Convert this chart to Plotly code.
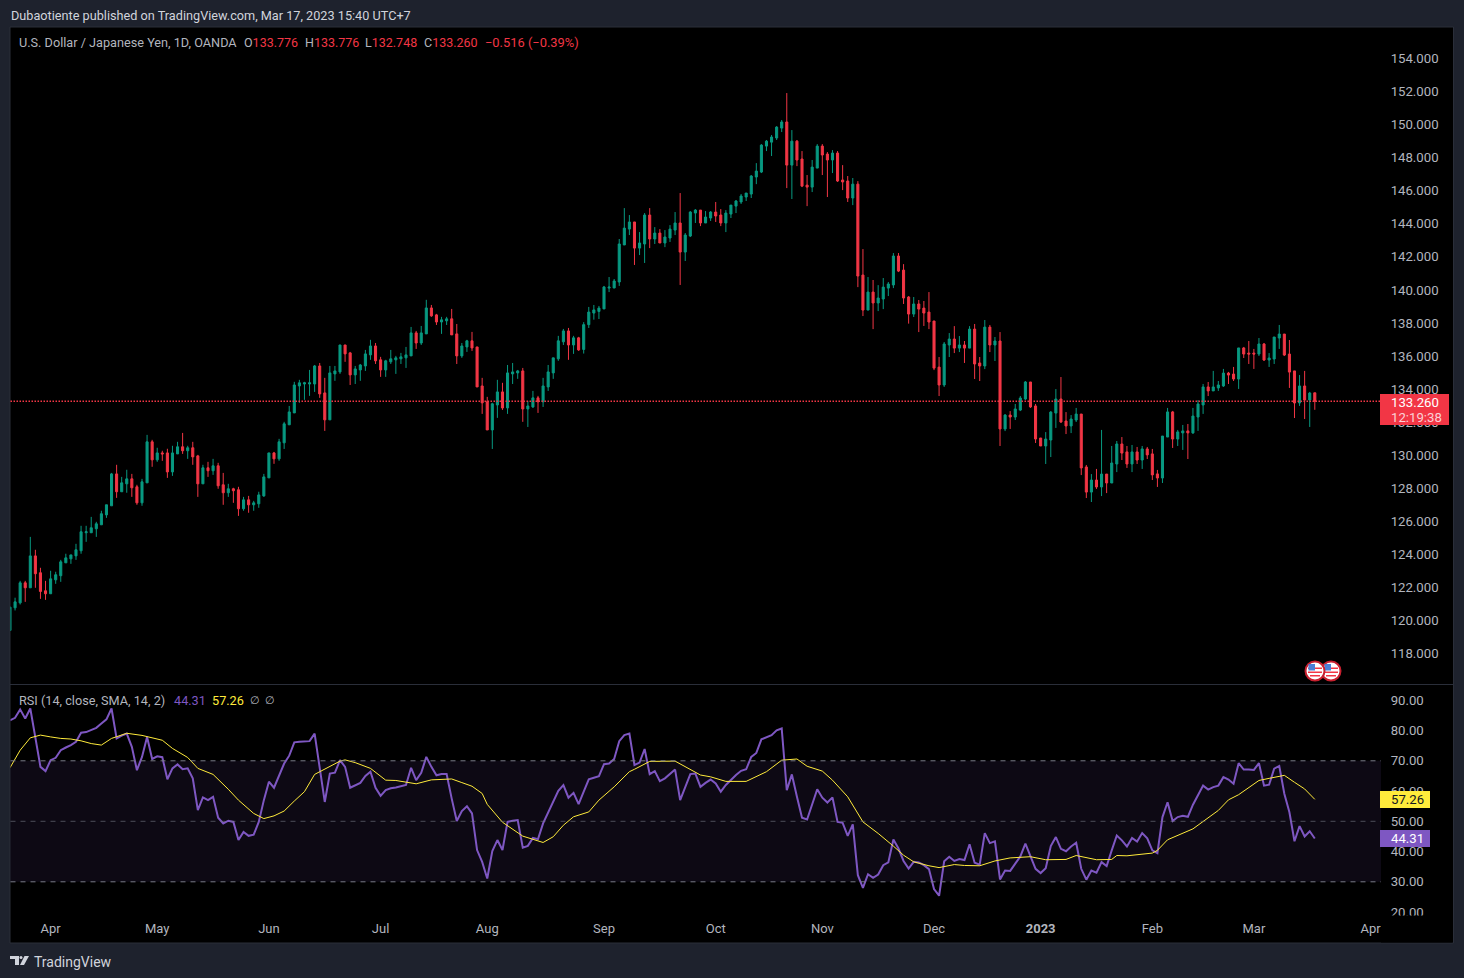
import plotly.graph_objects as go

W = 1464
H = 978

opens = [119.40,120.77,121.07,122.28,121.98,123.91,122.89,121.80,121.62,122.46,
122.71,123.49,123.73,123.91,124.22,125.31,125.31,125.55,125.79,126.39,
126.94,128.87,127.79,128.27,128.57,128.09,127.12,128.33,130.81,129.72,
130.14,130.14,128.99,130.08,130.51,130.27,130.45,129.96,128.27,129.24,
129.06,129.36,128.21,127.73,127.97,127.91,126.76,127.30,127.0,127.06,
127.54,128.63,130.14,129.78,130.75,131.84,132.56,134.19,134.31,134.31,
134.31,135.40,133.77,132.14,134.92,135.04,136.67,136.19,134.86,135.16,
135.40,136.07,136.61,135.77,135.16,135.65,135.77,135.83,135.89,136.01,
137.40,136.79,137.34,138.91,138.49,138.06,138.13,138.25,137.34,136.01,
136.55,136.92,136.55,134.19,133.23,131.53,133.04,133.83,132.86,134.92,
134.98,135.10,132.80,132.92,133.47,133.23,134.13,134.98,135.83,136.86,
137.52,136.67,137.10,136.40,137.90,138.60,138.70,138.85,140.11,140.12,
140.48,142.72,143.68,144.11,142.53,142.78,144.53,143.08,143.44,142.84,
143.14,143.62,144.05,142.29,143.26,144.65,144.83,144.05,144.35,144.71,
144.53,144.05,144.59,145.07,145.32,145.62,145.80,146.83,147.13,148.70,
148.94,149.19,149.79,150.16,147.55,149.0,147.92,146.34,146.22,147.37,
148.70,148.22,147.86,148.28,146.65,146.59,145.56,146.40,140.90,138.78,
139.87,139.21,139.45,140.11,140.30,142.05,141.20,139.57,138.54,139.15,
138.90,138.66,138.12,135.33,134.25,136.67,137.03,136.48,136.67,136.48,
137.63,135.58,135.40,137.75,136.67,136.91,131.59,132.43,132.31,132.73,
133.40,134.43,132.98,131.04,130.56,130.92,132.55,133.40,132.07,131.77,
132.13,132.49,129.29,127.77,128.50,128.08,128.86,128.32,129.47,130.68,
130.20,129.47,130.20,129.71,130.38,130.08,128.87,128.62,131.10,132.62,
130.98,131.35,131.47,131.35,132.31,133.04,134.13,133.89,134.07,134.19,
134.97,134.91,134.61,136.49,136.18,136.18,136.12,136.73,135.76,135.82,
137.09,137.33,136.12,135.10,133.16,134.19,133.34,133.776]

highs = [120.85,121.38,122.40,122.40,125.06,124.28,123.19,122.40,123.01,122.95,
123.67,124.04,123.97,124.64,125.73,125.73,126.27,125.97,126.64,127.0,
128.93,129.42,128.69,129.12,128.87,128.21,128.57,131.23,130.93,130.45,
130.27,130.39,130.57,130.81,131.35,130.57,130.81,130.02,129.42,129.60,
129.78,129.54,128.93,128.27,128.03,128.09,127.48,127.54,127.24,127.79,
128.87,130.14,130.20,130.99,132.02,132.98,134.44,134.56,134.44,135.16,
135.46,135.58,134.68,135.40,135.40,136.67,136.67,136.25,135.40,135.52,
136.37,136.98,136.79,135.95,135.77,136.37,136.01,136.19,136.55,137.76,
137.52,137.82,139.40,139.09,138.55,138.37,138.37,138.85,137.94,136.79,
136.98,137.46,136.55,134.68,133.53,133.17,134.56,134.38,135.46,135.58,
135.16,135.28,133.29,133.89,133.59,134.68,135.46,135.89,137.22,137.64,
137.70,137.22,137.16,138.05,138.97,139.09,139.03,140.24,140.78,140.66,
143.08,144.95,144.53,144.11,143.50,144.65,144.95,143.80,143.68,143.62,
143.92,144.71,145.86,143.44,144.77,144.89,144.83,144.77,144.77,145.32,
144.89,144.83,145.13,145.44,145.80,145.86,146.95,147.67,148.82,149.07,
149.37,149.91,150.28,151.91,149.67,149.07,148.40,146.95,147.86,148.82,
148.82,148.34,148.46,148.40,147.55,146.89,146.77,146.58,142.47,140.78,
140.60,140.29,140.72,140.48,142.23,142.23,141.56,139.63,139.57,139.39,
139.33,139.87,138.12,135.94,136.85,137.39,137.81,137.21,136.91,137.81,
137.94,135.94,138.18,137.88,137.15,137.45,132.49,132.67,133.10,133.58,
134.49,134.43,133.10,131.04,131.40,132.67,134.0,134.73,132.61,132.43,
132.86,132.49,129.41,128.86,129.17,131.53,128.86,130.56,130.86,131.10,
130.56,130.62,130.50,130.56,130.50,130.38,129.11,131.16,132.86,132.68,
131.53,131.83,131.89,132.86,133.34,134.31,134.43,135.10,134.49,135.22,
135.04,135.34,136.49,136.55,136.91,136.43,137.09,136.79,136.18,137.15,
137.88,137.33,136.97,135.10,134.85,135.10,133.83,133.776]

lows = [119.40,120.61,120.97,121.13,121.98,121.98,121.31,121.25,121.62,122.22,
122.34,123.49,123.43,123.67,124.04,124.76,125.31,125.06,125.79,126.21,
126.94,127.42,127.79,127.73,127.48,127.0,126.94,128.33,129.30,129.60,
129.66,128.63,128.75,130.08,130.08,129.78,129.42,127.48,128.27,128.69,
128.81,127.97,127.0,127.48,127.12,126.33,126.64,126.52,126.64,126.82,
127.48,128.63,129.48,129.66,130.38,131.84,132.56,133.17,133.35,133.59,
133.83,133.47,131.47,132.14,134.50,134.92,135.65,134.25,134.31,134.50,
135.10,135.77,135.52,134.74,134.74,135.52,134.92,135.52,135.28,136.01,
136.43,136.67,137.34,138.37,137.88,137.34,137.88,137.28,135.52,135.89,
136.25,136.31,134.13,132.50,131.53,130.38,132.26,132.74,132.50,134.31,
134.62,132.02,131.71,132.86,132.56,132.92,133.89,134.62,135.71,136.67,
135.77,136.13,136.31,136.15,137.70,138.20,138.24,138.85,139.87,140.10,
140.24,142.72,143.32,141.51,142.11,141.63,142.53,142.78,142.84,142.59,
142.90,143.32,140.30,141.75,143.20,144.05,143.86,144.05,144.17,144.11,
143.86,143.50,144.35,144.65,145.20,145.38,145.56,146.40,147.07,148.40,
148.10,149.07,149.55,146.16,145.50,147.49,146.22,145.07,145.92,147.37,
146.95,145.62,147.07,146.53,146.04,145.32,145.13,140.17,138.42,138.78,
137.63,138.72,138.84,139.63,140.11,141.08,139.15,137.96,138.36,137.45,
137.82,137.63,135.15,133.58,134.13,135.94,136.18,136.24,135.58,136.48,
134.61,134.49,135.21,136.24,135.70,130.56,131.46,131.59,132.13,132.67,
133.34,132.86,130.74,130.56,129.47,129.89,131.65,131.95,131.28,131.34,
132.01,128.80,127.41,127.17,127.96,127.53,127.71,128.32,128.98,129.71,
129.23,128.98,129.47,129.17,129.77,128.50,128.08,128.32,131.10,130.44,
130.56,130.32,129.77,131.29,131.47,132.50,133.58,133.89,133.89,134.13,
134.31,134.49,134.01,135.88,135.52,135.22,136.0,135.70,135.34,135.52,
136.43,136.0,134.07,132.25,132.98,132.19,131.71,132.748]

closes = [120.81,121.13,122.28,121.98,123.91,122.83,121.76,121.62,122.52,122.77,
123.55,123.79,123.97,124.28,125.37,125.37,125.61,125.85,126.46,127.0,
128.87,127.79,128.33,128.57,128.03,127.12,128.39,130.81,129.72,130.14,
130.08,128.99,130.14,130.51,130.27,130.45,129.90,128.27,129.24,129.06,
129.36,128.15,127.73,127.97,127.85,126.76,127.30,127.0,127.12,127.60,
128.69,130.14,129.78,130.81,131.90,132.62,134.25,134.38,134.38,134.38,
135.40,133.71,132.14,134.98,135.10,136.67,136.13,134.86,135.22,135.46,
136.13,136.61,135.71,135.16,135.71,135.83,135.89,135.95,136.07,137.40,
136.79,137.40,138.91,138.43,138.06,138.19,138.25,137.28,136.01,136.61,
136.92,136.49,134.13,133.17,131.53,133.11,133.83,132.86,134.98,135.04,
135.10,132.80,132.98,133.47,133.23,134.19,135.04,135.89,136.92,137.52,
136.67,137.10,136.37,137.90,138.66,138.79,138.90,140.18,140.17,140.54,
142.78,143.74,144.11,142.53,142.84,144.53,143.08,143.44,142.84,143.20,
143.68,144.05,142.29,143.32,144.71,144.83,144.05,144.41,144.71,144.47,
144.05,144.65,145.13,145.38,145.68,145.86,146.89,147.19,148.76,149.0,
149.25,149.85,150.16,147.55,149.0,147.86,146.28,146.22,147.43,148.70,
148.16,147.86,148.28,146.59,146.53,145.56,146.40,140.84,138.78,139.87,
139.21,139.51,140.17,140.36,142.05,141.14,139.51,138.54,139.15,138.84,
138.60,138.06,135.27,134.25,136.73,137.03,136.48,136.67,136.48,137.63,
135.52,135.40,137.75,136.67,136.91,131.59,132.43,132.31,132.80,133.46,
134.43,132.92,130.98,130.56,130.98,132.61,133.40,132.01,131.77,132.19,
132.49,129.23,127.77,128.50,128.08,128.86,128.32,129.53,130.68,130.13,
129.47,130.20,129.71,130.38,130.02,128.81,128.62,131.16,132.62,130.98,
131.41,131.47,131.35,132.37,133.10,134.13,133.89,134.13,134.25,134.97,
134.85,134.61,136.49,136.12,136.12,136.12,136.73,135.76,135.88,137.15,
137.33,136.06,135.03,133.16,134.19,133.34,133.76,133.26]

rsi = [83.4,84.2,87.0,84.0,87.3,77.4,68.0,66.6,70.2,71.0,
73.5,74.4,75.2,76.3,79.3,79.5,80.1,80.9,82.3,83.7,
87.3,77.4,78.3,79.0,74.6,66.9,71.3,77.9,70.6,71.5,
71.2,63.9,67.5,68.8,67.2,67.5,64.2,53.7,57.9,57.0,
58.1,51.2,49.3,50.2,49.8,43.8,46.5,45.2,45.6,49.8,
57.0,63.1,61.1,65.3,69.1,71.7,76.1,76.3,76.3,76.5,
79.0,67.5,56.4,65.8,66.1,70.2,68.0,61.1,62.0,62.7,
65.0,66.4,61.1,58.4,60.3,60.9,61.2,61.5,62.0,67.7,
63.6,66.0,71.3,68.0,65.2,65.6,65.6,57.5,50.1,53.4,
55.0,52.6,40.5,36.6,31.1,40.2,43.8,40.5,49.8,50.2,
50.4,41.3,41.9,44.5,44.1,49.3,53.1,56.8,60.1,62.0,
57.8,59.4,55.7,59.8,63.9,64.4,64.9,68.9,69.1,70.6,
76.5,78.5,79.0,68.6,69.4,73.9,65.6,66.6,63.3,64.2,
65.8,67.1,57.0,61.4,65.6,65.8,61.4,62.7,63.8,62.5,
59.8,62.0,63.8,65.3,66.7,67.2,71.3,72.6,77.1,77.7,
78.5,80.1,80.7,60.3,65.5,58.1,51.2,50.6,55.9,60.6,
57.8,56.2,57.9,49.8,49.5,45.2,49.0,32.2,28.0,32.5,
31.3,32.4,35.5,36.4,44.0,41.0,36.9,34.4,36.6,36.4,
35.5,34.2,27.6,25.4,36.8,38.3,36.9,37.5,37.2,42.4,
36.3,35.7,46.1,42.8,43.4,30.8,33.7,33.6,36.0,38.4,
42.6,38.7,34.3,32.9,34.5,41.8,44.8,40.9,40.1,41.7,
42.9,34.3,30.7,33.7,33.0,36.5,35.2,40.4,45.3,43.7,
41.7,44.5,43.3,46.1,44.4,40.4,39.5,51.4,56.3,50.1,
51.4,51.8,51.5,55.5,58.5,61.8,60.5,61.3,61.8,64.6,
63.8,62.4,69.2,67.1,67.1,67.0,69.2,61.8,62.1,67.4,
68.3,59.1,53.0,43.4,48.4,45.0,46.7,44.31]

sma_days = [0,2,4,6,8,10,12,14,16,18,20,23,26,30,32,35,37,40,43,45,48,50,52,54,56,58,60,62,65,66,68,71,74,76,
80,83,87,89,91,93,94,97,101,105,107,109,111,114,116,119,122,123,126,131,133,136,138,141,145,149,152,155,157,160,162,165,
168,171,174,176,178,181,183,186,188,191,194,197,201,204,208,210,214,217,218,220,225,226,228,231,233,238,240,242,246,248,
251,253,255,257]
sma = [67.7,73.5,77.6,78.5,77.9,77.4,77.2,76.6,75.7,75.2,77.4,79.1,78.4,76.8,74.1,71.1,67.5,65.5,60.6,57.0,52.6,50.9,51.8,53.4,56.7,59.8,65.5,67.2,69.9,70.3,69.4,67.5,63.6,63.5,
62.4,63.7,64.0,62.8,61.6,59.2,55.6,49.7,45.1,43.0,44.9,48.7,51.5,53.1,57.0,61.4,66.4,67.2,69.8,69.9,68.0,65.3,64.7,63.2,63.2,66.4,70.2,70.6,68.2,66.6,63.6,58.1,
49.8,46.0,41.8,38.8,36.6,35.3,34.7,35.7,35.4,35.3,36.9,37.9,38.3,37.3,37.4,38.7,37.3,37.4,38.7,38.6,39.5,40.4,43.9,46.1,47.5,53.6,57.1,58.8,63.5,64.2,
65.2,62.9,60.7,57.26]

month_ticks = [8,29,51,73,94,117,139,160,182,203,225,245,268]
month_labels = ['Apr','May','Jun','Jul','Aug','Sep','Oct','Nov','Dec','<b>2023</b>','Feb','Mar','Apr']

GREEN = '#089981'
RED = '#f23645'
PURPLE = '#7e57c2'
YELLOW = '#ffeb3b'
GREY = '#b2b5be'
FONT = 'Roboto'


def px_x(p):
    return p / W


def px_y(p):
    return 1 - p / H


def note(fig, x, y, text, color=GREY, size=12.7, anchor='left'):
    fig.add_annotation(xref='paper', yref='paper', x=px_x(x), y=px_y(y), text=text, showarrow=False,
                       xanchor=anchor, yanchor='middle', borderpad=0,
                       font=dict(family=FONT, size=size, color=color))


def box(fig, x0, y0, x1, y1, fill, line=None, layer='above', kind='rect', width=1):
    fig.add_shape(type=kind, xref='paper', yref='paper', x0=px_x(x0), x1=px_x(x1), y0=px_y(y0), y1=px_y(y1),
                  fillcolor=fill, layer=layer, line=dict(color=line if line else fill, width=width if line else 0))


def flag(fig, cx, cy):
    box(fig, cx-9.5, cy-9.5, cx+9.5, cy+9.5, '#ffffff', '#c8202f', kind='circle', width=2)
    box(fig, cx-7, cy-3.5, cx+7, cy-2, '#f23645')
    box(fig, cx-7, cy+0.5, cx+7, cy+2, '#f23645')
    box(fig, cx-5, cy+4, cx+5, cy+5.5, '#f23645')
    box(fig, cx-6.5, cy-7, cx, cy-0.5, '#4a7fd6')


def chart():
    days = list(range(len(closes)))
    fig = go.Figure()
    fig.add_trace(go.Candlestick(x=days, open=opens, high=highs, low=lows, close=closes, whiskerwidth=0,
                                 increasing=dict(line=dict(color=GREEN, width=1), fillcolor=GREEN),
                                 decreasing=dict(line=dict(color=RED, width=1), fillcolor=RED),
                                 xaxis='x', yaxis='y'))
    fig.add_trace(go.Scatter(x=days, y=rsi, mode='lines', line=dict(color=PURPLE, width=2), xaxis='x2', yaxis='y2'))
    fig.add_trace(go.Scatter(x=sma_days, y=sma, mode='lines', line=dict(color=YELLOW, width=1), xaxis='x2', yaxis='y2'))

    fig.update_layout(
        width=W, height=H, margin=dict(l=0, r=0, t=0, b=0, autoexpand=False), showlegend=False, autosize=False,
        paper_bgcolor='#1e222d', plot_bgcolor='rgba(0,0,0,0)', boxgap=0.42, hovermode=False,
        font=dict(family=FONT, size=12.7, color=GREY),
        xaxis=dict(domain=[px_x(10.5), px_x(1381)], range=[0.1, 270.04], rangeslider=dict(visible=False),
                   showticklabels=False, showgrid=False, zeroline=False, ticks=''),
        yaxis=dict(domain=[px_y(684), px_y(28)], range=[116.16, 155.845], side='right', dtick=2, tick0=0,
                   tickformat='.3f', showgrid=False, zeroline=False, ticks='outside', ticklen=6,
                   tickcolor='rgba(0,0,0,0)', tickfont=dict(family=FONT, size=13.2, color=GREY)),
        xaxis2=dict(domain=[px_x(10.5), px_x(1381)], range=[0.1, 270.04], anchor='y2', showgrid=False, zeroline=False,
                    tickmode='array', tickvals=month_ticks, ticktext=month_labels, ticks='outside', ticklen=1,
                    tickcolor='rgba(0,0,0,0)', tickfont=dict(family=FONT, size=13, color=GREY)),
        yaxis2=dict(domain=[px_y(915), px_y(685)], range=[19.03, 95.06], side='right', anchor='x2', dtick=10, tick0=0,
                    tickformat='.2f', showgrid=False, zeroline=False, ticks='outside', ticklen=6,
                    tickcolor='rgba(0,0,0,0)', tickfont=dict(family=FONT, size=13.2, color=GREY)),
    )

    # panel behind everything
    box(fig, 10, 27, 1453.5, 943, '#000000', '#2a2e39', layer='below')
    fig.add_shape(type='line', xref='paper', yref='paper', x0=px_x(10), x1=px_x(1453), y0=px_y(684.5), y1=px_y(684.5),
                  line=dict(color='#2a2e39', width=1), layer='below')

    # rsi band and its levels
    fig.add_shape(type='rect', xref='x2 domain', yref='y2', x0=0, x1=1, y0=30, y1=70, layer='below',
                  fillcolor='rgba(126,87,194,0.1)', line=dict(width=0))
    for level, colour in [(70, '#787b86'), (50, 'rgba(120,123,134,0.6)'), (30, '#787b86')]:
        fig.add_shape(type='line', xref='x2 domain', yref='y2', x0=0, x1=1, y0=level, y1=level,
                      line=dict(color=colour, width=1, dash='5px,5px'))
    # last price line
    fig.add_shape(type='line', xref='x domain', yref='y', x0=0, x1=1, y0=closes[-1], y1=closes[-1],
                  line=dict(color=RED, width=1.5, dash='1.5px,1.5px'))

    # the time scale cuts off what runs over its corner
    box(fig, 1381, 915.5, 1452.5, 942.5, '#000000')

    # price tags
    box(fig, 1380, 394, 1449, 425, RED)
    note(fig, 1390, 402.5, '133.260', '#ffffff', 13.2)
    note(fig, 1390, 417, '12:19:38', '#fbd0d5', 13.2)
    box(fig, 1380, 791, 1430, 808, YELLOW)
    note(fig, 1390, 799.5, '57.26', '#131722', 13.2)
    box(fig, 1380, 830, 1430, 847, PURPLE)
    note(fig, 1390, 838.5, '44.31', '#ffffff', 13.2)

    flag(fig, 1331, 671)
    flag(fig, 1315, 671)

    # header, legends, footer
    note(fig, 10, 15, 'Dubaotiente published on TradingView.com, Mar 17, 2023 15:40 UTC+7', '#d1d4dc', 12.7)
    note(fig, 17.5, 42.5, 'U.S. Dollar / Japanese Yen, 1D, OANDA', GREY)
    for x, head, value in [(243, 'O', '133.776'), (304, 'H', '133.776'), (364, 'L', '132.748'), (423, 'C', '133.260')]:
        note(fig, x, 42.5, head + '<span style="color:%s">%s</span>' % (RED, value), GREY, 12.5)
    note(fig, 484, 42.5, '\u22120.516 (\u22120.39%)', RED, 12.9)
    note(fig, 17.5, 700.5, 'RSI (14, close, SMA, 14, 2)', GREY)
    note(fig, 173, 700.5, '44.31', PURPLE)
    note(fig, 211, 700.5, '57.26', YELLOW)
    note(fig, 249, 700.5, '\u2205', GREY, 11)
    note(fig, 264, 700.5, '\u2205', GREY, 11)

    # logo mark, then the name
    fig.add_shape(type='path', xref='paper', yref='paper', layer='above', fillcolor='#d1d4dc', line=dict(width=0),
                  path='M %f %f L %f %f L %f %f L %f %f L %f %f L %f %f Z' % (
                      px_x(10), px_y(956), px_x(19), px_y(956), px_x(19), px_y(965),
                      px_x(15), px_y(965), px_x(15), px_y(959), px_x(10), px_y(959)))
    box(fig, 19.5, 956, 22.5, 959, '#d1d4dc', kind='circle', width=0)
    fig.add_shape(type='path', xref='paper', yref='paper', layer='above', fillcolor='#d1d4dc', line=dict(width=0),
                  path='M %f %f L %f %f L %f %f L %f %f Z' % (
                      px_x(24.5), px_y(956), px_x(29), px_y(956), px_x(24), px_y(965), px_x(20), px_y(965)))
    note(fig, 33, 961.5, 'TradingView', '#d1d4dc', 14)
    return fig


fig = chart()
fig.write_html("out.html", config={'displayModeBar': False}, post_script="document.body.style.margin='0';")
